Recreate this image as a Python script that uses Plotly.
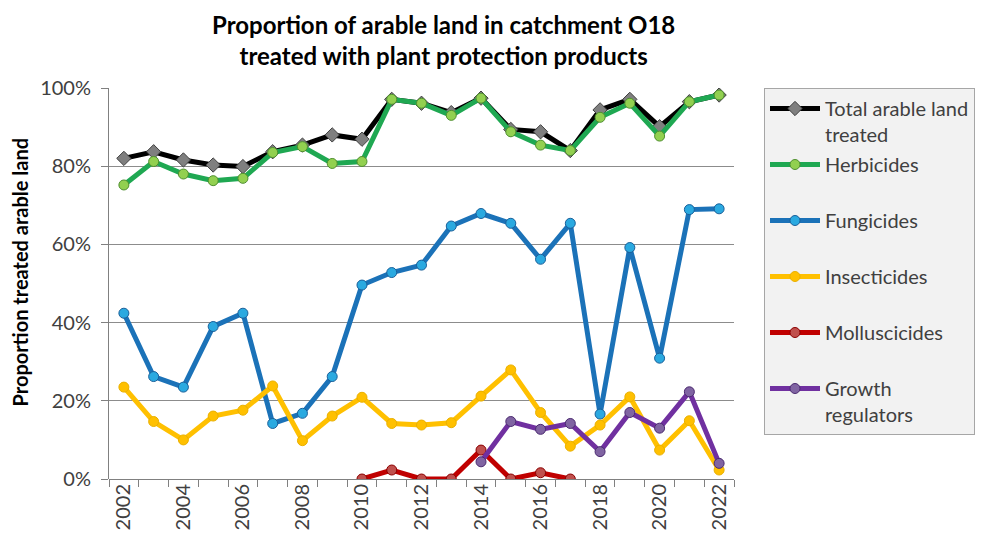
import plotly.graph_objects as go

years = list(range(2002, 2023))

total = [82.0, 83.7, 81.6, 80.3, 79.9, 83.7, 85.4, 88.0, 86.9, 97.1, 96.1,
         93.7, 97.4, 89.4, 88.8, 84.0, 94.4, 97.1, 90.1, 96.5, 98.2]
herbicides = [75.2, 81.2, 78.0, 76.3, 76.9, 83.5, 85.0, 80.7, 81.2, 97.1, 96.1,
              93.0, 97.4, 88.8, 85.4, 84.0, 92.5, 96.1, 87.7, 96.5, 98.2]
fungicides = [42.4, 26.2, 23.5, 39.0, 42.4, 14.2, 16.8, 26.2, 49.6, 52.8, 54.7,
              64.7, 67.9, 65.4, 56.2, 65.4, 16.6, 59.2, 30.9, 68.9, 69.1]
insecticides = [23.5, 14.7, 10.0, 16.1, 17.6, 23.8, 9.8, 16.1, 20.9, 14.2, 13.8,
                14.4, 21.2, 27.9, 17.0, 8.4, 13.8, 21.0, 7.4, 14.9, 2.3]
moll_years = list(range(2010, 2018))
molluscicides = [0.0, 2.3, 0.0, 0.0, 7.4, 0.0, 1.6, 0.0]
gr_years = list(range(2014, 2023))
growth_regulators = [4.4, 14.7, 12.7, 14.2, 7.0, 17.0, 13.0, 22.3, 4.0]

series = [
    ("Total arable land<br>treated", years, total, "#000000", "#7f7f7f", "#404040", "diamond", 11),
    ("Herbicides<br> ", years, herbicides, "#1fa852", "#92d050", "#4f8f2f", "circle", 10),
    ("Fungicides<br> ", years, fungicides, "#1b72b8", "#2aa9e0", "#1a5f99", "circle", 10),
    ("Insecticides<br> ", years, insecticides, "#ffc000", "#ffc000", "#eab000", "circle", 10),
    ("Molluscicides<br> ", moll_years, molluscicides, "#c00000", "#c0504d", "#8b0000", "circle", 10),
    ("Growth<br>regulators", gr_years, growth_regulators, "#7030a0", "#8064a2", "#4b2a70", "circle", 10),
]

FONT = "Lato"
fig = go.Figure()
for i, (name, xs, ys, lc, mc, oc, sym, ms) in enumerate(series):
    fig.add_trace(go.Scatter(
        x=xs, y=[v / 100 for v in ys], name=name, mode="lines+markers",
        legendgroup=str(i),
        line=dict(color=lc, width=5),
        marker=dict(color=mc, symbol=sym, size=ms, line=dict(color=oc, width=1)),
    ))

fig.update_layout(
    width=979, height=534,
    margin=dict(l=101, r=250, t=80, b=63),
    paper_bgcolor="white", plot_bgcolor="white",
    font=dict(family=FONT, size=20, color="#404040"),
    legend=dict(x=1.048, xanchor="left", y=1.0, yanchor="top",
                bgcolor="#f2f2f2", bordercolor="#a6a6a6", borderwidth=1,
                traceorder="grouped", tracegroupgap=1, valign="top",
                font=dict(family=FONT, size=20, color="#404040"),
                itemwidth=50),
    showlegend=True,
    annotations=[
        dict(text="<b>Proportion of arable land in catchment O18<br>treated with plant protection products</b>",
             xref="paper", yref="paper", x=0.535, y=1.1215, xanchor="center", yanchor="middle",
             showarrow=False, font=dict(family=FONT, size=24, color="#000000")),
        dict(text="<b>Proportion treated arable land</b>", textangle=-90,
             xref="paper", yref="paper", x=-0.142, y=0.529, xanchor="center", yanchor="middle",
             showarrow=False, font=dict(family=FONT, size=20, color="#000000")),
    ],
)
fig.update_xaxes(
    range=[2001.5, 2022.5], tickvals=list(range(2002, 2023, 2)),
    ticktext=[str(y) for y in range(2002, 2023, 2)], tickangle=-90,
    ticks="", showgrid=False, showline=False, zeroline=False,
    tickfont=dict(family=FONT, size=20, color="#404040"),
    minor=dict(tick0=2001.5, dtick=1, ticks="outside", ticklen=7, tickcolor="#808080", showgrid=False),
)
fig.update_yaxes(
    range=[0, 1.0], tickvals=[0, 0.2, 0.4, 0.6, 0.8, 1.0], tickformat=".0%",
    ticks="outside", ticklen=7, tickcolor="#808080", ticklabelstandoff=6,
    showgrid=True, gridcolor="#8c8c8c", gridwidth=1,
    showline=True, linecolor="#808080", linewidth=1,
    zeroline=True, zerolinecolor="#808080", zerolinewidth=1,
    tickfont=dict(family=FONT, size=20, color="#404040"),
)
fig.write_html("out.html")
